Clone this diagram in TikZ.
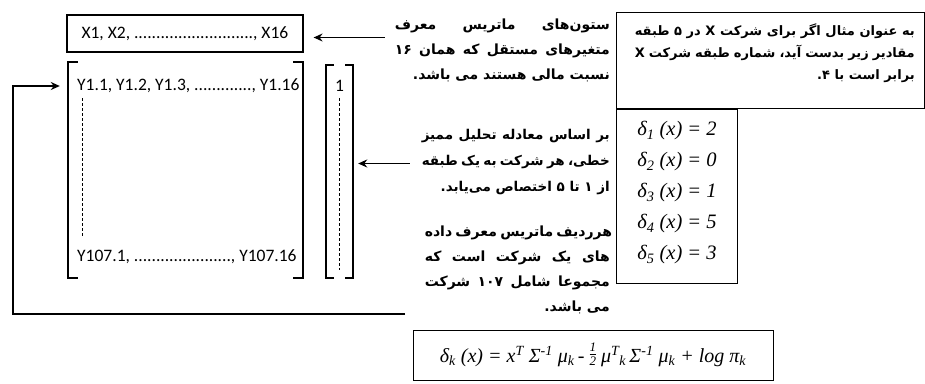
\documentclass[tikz,border=0pt]{standalone}
\usepackage{fontspec}
\setmainfont{Liberation Serif}
\newfontfamily\calfont{Carlito}
\newfontfamily\farsi[Script=Arabic]{DejaVu Sans}
\TeXXeTstate=1
\usetikzlibrary{positioning,arrows.meta,calc}
% one line of a note, justified or set flush right
\newcommand\rjust[2]{\hbox to #1{#2}}
\newcommand\rlast[2]{\hbox to #1{\hfil #2}}
\tikzset{
  arr/.style={-{Stealth[length=9pt,width=8pt]},line width=1.3pt},
  brk/.style={line width=1.8pt},
  frm/.style={draw,line width=1pt,inner sep=0pt},
  fanote/.style={inner sep=0pt,anchor=base east,font=\farsi\bfseries\fontsize{14}{25}\selectfont},
  ltxt/.style={font=\calfont\fontsize{17.5}{20}\selectfont,inner sep=0pt},
  dlt/.style={font=\itshape\fontsize{20.5}{24}\selectfont,inner sep=0pt},
  vdots/.style={densely dashed,line width=0.6pt},
}
\begin{document}
\begin{tikzpicture}[x=1pt,y=-1pt]
  \useasboundingbox (0,0) rectangle (925,383);
  % ---- data matrix ----
  \node[frm,ltxt,line width=1.2pt,minimum width=236pt,minimum height=37pt] (xrow) at (185,33.5)
    {X1, X2, ..........................., X16};
  \node[minimum width=235pt,minimum height=216pt,inner sep=0pt] (ymat) at (185.5,170) {};
  \draw[brk] ([xshift=10pt]ymat.north west) -- (ymat.north west) -- (ymat.south west) -- ([xshift=10pt]ymat.south west);
  \draw[brk] ([xshift=-10pt]ymat.north east) -- (ymat.north east) -- (ymat.south east) -- ([xshift=-10pt]ymat.south east);
  \node[ltxt,anchor=west] (yfirst) at (77,86) {Y1.1, Y1.2, Y1.3, ............., Y1.16};
  \node[ltxt,anchor=west] (ylast) at (77,257) {Y107.1, ......................, Y107.16};
  \draw[vdots] ($(yfirst.south west)+(5,5)$) -- ($(ylast.north west)+(5,-14)$);
  % ---- class vector ----
  \node[minimum width=27pt,minimum height=213pt,inner sep=0pt] (onevec) at (339.5,171.5) {};
  \draw[brk] ([xshift=8pt]onevec.north west) -- (onevec.north west) -- (onevec.south west) -- ([xshift=8pt]onevec.south west);
  \draw[brk] ([xshift=-8pt]onevec.north east) -- (onevec.north east) -- (onevec.south east) -- ([xshift=-8pt]onevec.south east);
  \node[ltxt] (one) at (339.5,86) {1};
  \draw[vdots] ([yshift=-6pt]one.south) -- ([yshift=8pt]onevec.south);
  % ---- notes ----
  \node[fanote] (colsnote) at (610,79) {\vbox{\baselineskip=25pt
    \rjust{215pt}{\beginR ستون^^^^200cهای ماتریس معرف\endR}
    \rjust{215pt}{\beginR متغیرهای مستقل که همان ۱۶\endR}
    \rlast{215pt}{\beginR نسبت مالی هستند می باشد.\endR}}};
  \node[fanote,font=\farsi\bfseries\fontsize{13.5}{25}\selectfont] (ldanote) at (610,191) {\vbox{\baselineskip=26pt
    \rjust{188pt}{\beginR بر اساس معادله تحلیل ممیز\endR}
    \rjust{188pt}{\beginR خطی، هر شرکت به یک طبقه\endR}
    \rlast{188pt}{\beginR از ۱ تا ۵ اختصاص می^^^^200cیابد.\endR}}};
  \node[fanote] (rownote) at (610,311) {\vbox{\baselineskip=25pt
    \rjust{185pt}{\beginR هرردیف ماتریس معرف داده\endR}
    \rjust{185pt}{\beginR های یک شرکت است که\endR}
    \rjust{185pt}{\beginR مجموعا شامل ۱۰۷ شرکت\endR}
    \rlast{185pt}{\beginR می باشد.\endR}}};
  \coordinate (xin) at ([xshift=10pt,yshift=-4pt]xrow.east);
  \draw[arr] ([xshift=-10pt]colsnote.west |- xin) -- (xin);
  \coordinate (vin) at ([xshift=5pt,yshift=8pt]onevec.east);
  \draw[arr] ([xshift=-12pt]ldanote.west |- vin) -- (vin);
  \coordinate (loopstart) at (405,314);
  \coordinate (yin) at ([xshift=-8pt]ymat.west |- yfirst.west);
  \draw[arr,line width=2.2pt] (loopstart) -- ++(-392,0) |- (yin);
  % ---- example box ----
  \node[frm,minimum width=308pt,minimum height=96pt] (exbox) at (770,60) {};
  \node[frm,minimum width=121pt,minimum height=174pt,anchor=north west] (dbox) at (exbox.south west) {};
  \node[fanote,font=\farsi\bfseries\fontsize{13}{22}\selectfont] (extext) at (915,79) {\vbox{\baselineskip=22pt
    \rjust{280pt}{\beginR به عنوان مثال اگر برای شرکت X در ۵ طبقه\endR}
    \rjust{280pt}{\beginR مقادیر زیر بدست آید، شماره طبقه شرکت X\endR}
    \rlast{280pt}{\beginR برابر است با ۴\kern0pt.\endR}}};
  \foreach \k/\v in {1/2,2/0,3/1,4/5,5/3}
    \node[dlt] (d\k) at (677,100+31*\k) {δ\textsubscript{\k} (x) = \v};
  % ---- discriminant function ----
  \node[frm,minimum width=360pt,minimum height=50pt,font=\itshape\fontsize{20}{23}\selectfont] (ldaeq) at (593,355)
    {δ\textsubscript{k} (x) = x\textsuperscript{T} Σ\textsuperscript{-1} μ\textsubscript{k}\,- \raisebox{-0.35ex}{\fontsize{13}{10}\selectfont\shortstack{1\\[-1pt]\rule{0.5em}{0.5pt}\\2}} μ\textsuperscript{T}\textsubscript{k}\,Σ\textsuperscript{-1} μ\textsubscript{k} + log π\textsubscript{k}};
\end{tikzpicture}
\end{document}
